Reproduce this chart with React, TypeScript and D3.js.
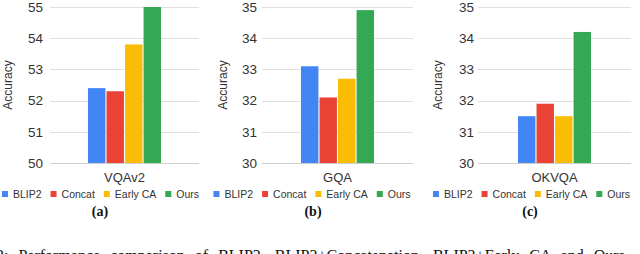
import React, { useRef, useEffect } from 'react';
import * as d3 from 'd3';

const methods = ["BLIP2", "Concat", "Early CA", "Ours"];
const methodColors = ["#4285F4", "#EA4335", "#FBBC04", "#34A853"];
const datasets = ["VQAv2", "GQA", "OKVQA"];
const vqaValues = [52.4, 52.3, 53.8, 55.0];
const gqaValues = [33.1, 32.1, 32.7, 34.9];
const okvqaValues = [31.5, 31.9, 31.5, 34.2];
const vqaTicks = [50, 51, 52, 53, 54, 55];
const gqaTicks = [30, 31, 32, 33, 34, 35];
const okvqaTicks = [30, 31, 32, 33, 34, 35];
const subLabels = ["(a)", "(b)", "(c)"];
const captionText = "Performance comparison of BLIP2, BLIP2+Concatenation, BLIP2+Early CA and Ours";

const WIDTH = 640;
const HEIGHT = 254;
const SANS = "'Liberation Sans', Arial, sans-serif";
const SERIF = "'Liberation Serif', 'DejaVu Serif', serif";

// panel frames (plot left/right, tick label edge, axis title x, legend / caption centre)
const panels = [
    { values: vqaValues, ticks: vqaTicks, plotL: 50, plotR: 199, labelR: 43, titleX: 8, legendC: 100.5, capC: 100 },
    { values: gqaValues, ticks: gqaTicks, plotL: 262, plotR: 413, labelR: 257, titleX: 223, legendC: 312, capC: 313 },
    { values: okvqaValues, ticks: okvqaTicks, plotL: 478, plotR: 631, labelR: 474, titleX: 438, legendC: 531.5, capC: 530 },
];

const App: React.FC = () => {
    const svgRef = useRef<SVGSVGElement>(null);

    useEffect(() => {
        if (!svgRef.current) return;
        const svg = d3.select(svgRef.current);
        svg.selectAll("*").remove();

        const top = 7;
        const bottom = 163;

        panels.forEach((p, i) => {
            const g = svg.append("g");
            const y = d3.scaleLinear()
                .domain([p.ticks[0], p.ticks[p.ticks.length - 1]])
                .range([bottom, top]);

            // gridlines
            g.append("g")
                .selectAll("line")
                .data(p.ticks)
                .join("line")
                .attr("x1", p.plotL)
                .attr("x2", p.plotR)
                .attr("y1", d => Math.round(y(d)) + 0.5)
                .attr("y2", d => Math.round(y(d)) + 0.5)
                .attr("stroke", (d, j) => j === 0 ? "#cfcfcf" : "#e0e0e0")
                .attr("stroke-width", 1);

            // tick labels
            g.append("g")
                .selectAll("text")
                .data(p.ticks)
                .join("text")
                .attr("x", p.labelR)
                .attr("y", d => y(d))
                .attr("dy", "0.35em")
                .attr("text-anchor", "end")
                .attr("font-family", SANS)
                .attr("font-size", 13.5)
                .attr("fill", "#333")
                .text(d => d);

            // axis title
            g.append("text")
                .attr("transform", `translate(${p.titleX},${(top + bottom) / 2}) rotate(-90)`)
                .attr("dy", "0.35em")
                .attr("text-anchor", "middle")
                .attr("font-family", SANS)
                .attr("font-size", 12)
                .attr("fill", "#333")
                .text("Accuracy");

            // bars
            const centre = (p.plotL + p.plotR) / 2;
            const x = d3.scaleBand<string>()
                .domain(methods)
                .range([centre - 36.5, centre + 36.5])
                .paddingInner(0.06);

            g.append("g")
                .selectAll("rect")
                .data(methods)
                .join("rect")
                .attr("x", d => x(d)!)
                .attr("width", x.bandwidth())
                .attr("y", (d, j) => y(p.values[j]))
                .attr("height", (d, j) => bottom - y(p.values[j]))
                .attr("fill", (d, j) => methodColors[j]);

            // category label
            g.append("text")
                .attr("x", centre)
                .attr("y", 182)
                .attr("text-anchor", "middle")
                .attr("font-family", SANS)
                .attr("font-size", 13)
                .attr("fill", "#333")
                .text(datasets[i]);

            // legend
            const legend = g.append("g");
            let cx = 0;
            methods.forEach((m, j) => {
                legend.append("rect")
                    .attr("x", cx)
                    .attr("y", -3)
                    .attr("width", 6)
                    .attr("height", 6)
                    .attr("fill", methodColors[j]);
                const t = legend.append("text")
                    .attr("x", cx + 11)
                    .attr("dy", "0.35em")
                    .attr("font-family", SANS)
                    .attr("font-size", 10.5)
                    .attr("fill", "#333")
                    .text(m);
                const w = (t.node() as SVGTextElement).getComputedTextLength();
                cx += 11 + w + 9;
            });
            const total = cx - 9;
            legend.attr("transform", `translate(${p.legendC - total / 2},194)`);

            // sub caption
            g.append("text")
                .attr("x", p.capC)
                .attr("y", 216)
                .attr("text-anchor", "middle")
                .attr("font-family", SERIF)
                .attr("font-weight", "bold")
                .attr("font-size", 14)
                .attr("fill", "#111")
                .text(subLabels[i]);
        });

        // figure caption, clipped by the bottom edge as in the source
        svg.append("text")
            .attr("x", -4)
            .attr("y", 261)
            .attr("font-family", SERIF)
            .attr("font-size", 16)
            .attr("word-spacing", 6)
            .attr("fill", "#111")
            .text("2:  " + captionText);
    }, []);

    return (
        <svg
            ref={svgRef}
            width={WIDTH}
            height={HEIGHT}
            viewBox={`0 0 ${WIDTH} ${HEIGHT}`}
            style={{ position: 'absolute', left: 0, top: 0, background: '#fff' }}
        />
    );
};

export default App;
